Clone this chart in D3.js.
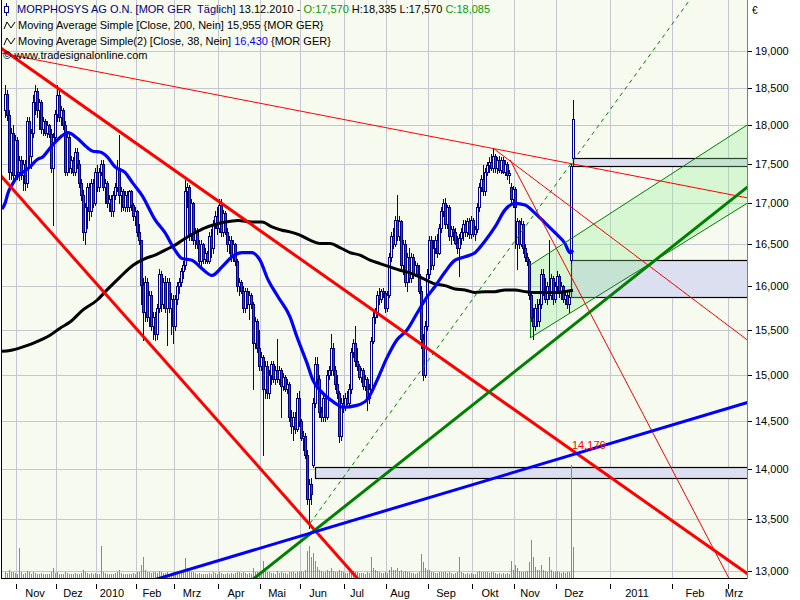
<!DOCTYPE html>
<html><head><meta charset="utf-8">
<script src="https://cdn.jsdelivr.net/npm/d3@7"></script>
<style>
body{margin:0;background:#fff}
svg{display:block}
text{font-family:"Liberation Sans",Arial,sans-serif;font-size:11px;white-space:pre}
</style>
</head><body>
<svg id="c" width="800" height="600"></svg>
<script>
// ---------- DATA (bar slots: one slot per trading day, future = calendar days) ----------
const open = [
18.20,18.41,18.13,17.40,17.90,17.36,17.80,17.40,17.55,17.35,
17.50,17.25,18.05,17.60,17.90,18.30,18.45,18.20,18.30,17.95,
18.05,17.90,18.00,17.88,17.45,17.85,18.15,18.40,18.10,18.20,
18.00,17.40,17.85,17.45,17.55,17.40,17.65,17.50,17.25,17.10,
16.65,16.95,17.20,16.90,17.25,17.00,17.40,17.20,17.40,17.50,
17.20,17.25,17.00,17.05,16.90,17.10,17.20,17.45,17.10,17.15,
16.95,17.10,16.95,17.15,16.98,16.85,16.90,16.65,16.55,16.02,
15.70,16.05,15.65,15.90,15.55,15.65,15.45,15.75,16.15,15.80,
16.05,15.75,16.05,15.75,15.85,15.55,15.85,16.00,16.05,16.18,
16.25,17.15,17.20,16.60,17.00,16.55,16.65,16.50,16.30,16.50,
16.32,16.40,16.30,16.60,16.45,16.75,16.85,16.70,16.98,16.65,
16.88,16.65,16.50,16.55,16.35,16.50,16.30,16.00,16.05,15.95,
15.75,15.95,15.80,15.90,15.80,15.35,15.60,15.30,15.10,15.20,
14.85,15.10,14.80,15.00,15.12,14.95,15.05,14.95,15.05,14.88,
14.98,14.85,14.90,14.55,14.45,14.55,14.42,14.75,14.50,14.33,
14.35,14.15,13.70,13.85,14.05,14.70,15.12,14.95,14.60,14.55,
14.75,14.55,15.00,15.05,15.30,15.05,14.90,14.80,14.35,14.70,
14.65,14.75,14.70,14.85,15.25,15.35,15.15,15.10,14.98,15.05,
14.88,14.95,14.75,14.85,15.38,15.65,15.70,15.90,15.85,15.95,
15.92,15.75,15.90,16.35,16.60,16.50,16.80,16.60,16.78,16.25,
16.50,16.05,16.35,16.10,16.35,16.15,16.25,16.15,15.95,15.40,
15.00,15.55,16.15,16.55,16.25,16.45,16.55,16.40,16.70,16.90,
17.00,16.75,16.95,16.60,16.68,16.65,16.52,16.45,16.58,16.65,
16.75,16.65,16.78,16.62,16.80,16.62,16.68,16.95,17.20,17.30,
17.15,17.40,17.48,17.52,17.45,17.60,17.45,17.55,17.42,17.55,
17.40,17.50,17.35,17.20,17.05,17.18,16.50,16.78,16.50,16.75,
16.45,16.35,16.30,15.90,15.65,15.55,15.75,15.60,15.80,16.15,
15.95,15.85,16.00,15.90,16.10,15.85,16.00,16.12,15.92,16.00,
15.85,15.90,15.80,16.31,17.57];
const high = [
18.54,18.47,18.20,17.96,18.00,17.87,17.85,17.60,17.60,17.55,
17.55,18.10,18.10,17.95,18.40,18.54,18.50,18.35,18.33,18.10,
18.08,18.05,18.02,17.95,17.90,18.20,18.54,18.45,18.25,18.22,
18.05,17.90,17.88,17.60,17.58,17.70,17.70,17.55,17.30,17.17,
17.00,17.25,17.25,17.30,17.30,17.45,17.48,17.45,17.55,17.55,
17.30,17.28,17.10,17.10,17.15,17.25,17.55,17.87,17.20,17.18,
17.15,17.15,17.17,17.17,17.00,16.95,16.92,16.75,16.55,16.10,
16.12,16.10,15.95,15.95,15.70,15.70,15.80,16.20,16.18,16.10,
16.12,16.10,16.10,15.92,15.90,15.90,16.05,16.10,16.22,16.30,
17.29,17.25,17.23,17.05,17.02,16.70,16.70,16.55,16.55,16.52,
16.45,16.42,16.65,16.68,16.80,16.90,16.95,17.05,17.05,16.92,
16.90,16.70,16.60,16.60,16.55,16.52,16.32,16.10,16.08,16.00,
15.98,15.98,15.95,15.92,15.82,15.65,15.62,15.50,15.25,15.22,
15.15,15.15,15.05,15.15,15.15,15.10,15.40,15.10,15.08,15.02,
15.00,14.95,14.92,14.62,14.60,14.60,14.80,14.82,14.52,14.40,
14.38,14.20,13.90,13.91,14.75,15.20,15.20,15.00,14.65,14.80,
14.78,15.05,15.10,15.45,15.35,15.10,15.00,14.82,14.75,14.78,
14.80,14.82,14.90,15.30,15.40,15.55,15.30,15.12,15.08,15.08,
15.00,14.98,14.90,15.42,15.70,15.75,15.95,15.98,15.97,15.98,
15.95,15.95,16.40,16.65,16.70,16.85,17.10,16.85,16.80,16.55,
16.55,16.40,16.45,16.40,16.38,16.30,16.28,16.25,16.00,15.45,
15.60,16.20,16.60,16.60,16.55,16.60,16.62,16.75,16.95,17.05,
17.07,16.98,16.98,16.72,16.72,16.70,16.60,16.62,16.70,16.80,
16.80,16.82,16.82,16.85,16.82,16.72,17.00,17.25,17.35,17.48,
17.45,17.52,17.58,17.62,17.70,17.63,17.58,17.60,17.58,17.58,
17.55,17.52,17.42,17.25,17.22,17.20,16.82,16.80,16.82,16.78,
16.50,16.40,16.32,15.95,15.75,15.80,15.85,15.85,16.20,16.20,
16.10,16.05,16.55,16.15,16.12,16.05,16.18,16.15,16.05,16.02,
15.95,15.95,15.95,17.50,18.335];
const low = [
18.10,18.07,17.30,17.30,17.29,17.30,17.30,17.29,17.30,17.17,
17.17,17.20,17.50,17.45,17.85,18.15,18.10,17.95,17.90,17.87,
17.87,17.85,17.85,17.40,16.74,17.80,18.05,18.05,18.00,17.95,
17.35,17.35,17.40,17.38,17.36,17.36,17.45,17.20,17.04,16.55,
16.50,16.70,16.80,16.85,16.95,16.98,17.15,17.15,17.35,17.17,
17.00,16.95,16.90,16.85,16.85,17.05,17.15,17.00,16.90,16.92,
16.90,16.90,16.90,16.92,16.80,16.74,16.60,16.50,15.80,15.39,
15.60,15.60,15.55,15.50,15.40,15.39,15.40,15.70,15.72,15.75,
15.70,15.33,15.70,15.45,15.35,15.50,15.80,15.92,16.00,16.10,
16.20,16.95,16.55,16.55,16.50,16.45,16.45,16.25,16.25,16.28,
16.28,16.28,16.28,16.35,16.40,16.70,16.62,16.65,16.60,16.60,
16.62,16.42,16.40,16.30,16.30,16.25,15.95,15.90,15.92,15.70,
15.70,15.75,15.62,15.75,14.85,15.30,15.25,15.05,15.05,14.15,
14.75,14.75,14.75,14.90,14.92,14.90,14.92,14.90,14.55,14.84,
14.82,14.80,14.50,14.38,14.30,14.38,14.40,14.45,14.30,14.20,
14.12,13.65,13.41,13.65,14.03,14.65,14.90,14.55,14.50,14.50,
14.50,14.52,14.95,15.00,15.00,14.85,14.75,14.28,14.30,14.60,
14.62,14.68,14.68,14.80,15.20,15.10,15.05,14.95,14.92,14.85,
14.84,14.62,14.70,14.82,15.35,15.58,15.65,15.80,15.82,15.88,
15.70,15.72,15.88,16.30,16.45,16.48,16.55,16.55,16.20,16.15,
16.00,15.95,16.05,16.05,16.10,16.12,16.12,15.92,15.30,14.94,
14.98,15.50,16.10,16.20,16.20,16.40,16.35,16.38,16.65,16.85,
16.70,16.70,16.55,16.50,16.55,16.50,16.40,16.12,16.50,16.55,
16.60,16.60,16.58,16.58,16.60,16.55,16.65,16.90,17.15,17.10,
17.10,17.35,17.40,17.42,17.40,17.40,17.38,17.40,17.38,17.38,
17.35,17.30,17.25,17.02,16.95,16.45,16.20,16.45,16.48,16.40,
16.30,16.25,15.85,15.60,15.40,15.50,15.55,15.55,15.75,15.90,
15.82,15.80,15.85,15.85,15.80,15.82,15.95,15.88,15.85,15.82,
15.80,15.75,15.70,16.28,17.57];
const close = [
18.41,18.13,17.40,17.90,17.36,17.80,17.40,17.55,17.35,17.50,
17.25,18.05,17.60,17.90,18.30,18.45,18.20,18.30,17.95,18.05,
17.90,18.00,17.88,17.45,17.85,18.15,18.40,18.10,18.20,18.00,
17.40,17.85,17.45,17.55,17.40,17.65,17.50,17.25,17.10,16.65,
16.95,17.20,16.90,17.25,17.00,17.40,17.20,17.40,17.50,17.20,
17.25,17.00,17.05,16.90,17.10,17.20,17.45,17.10,17.15,16.95,
17.10,16.95,17.15,16.98,16.85,16.90,16.65,16.55,16.02,15.70,
16.05,15.65,15.90,15.55,15.65,15.45,15.75,16.15,15.80,16.05,
15.75,16.05,15.75,15.85,15.55,15.85,16.00,16.05,16.18,16.25,
17.15,17.20,16.60,17.00,16.55,16.65,16.50,16.30,16.50,16.32,
16.40,16.30,16.60,16.45,16.75,16.85,16.70,16.98,16.65,16.88,
16.65,16.50,16.55,16.35,16.50,16.30,16.00,16.05,15.95,15.75,
15.95,15.80,15.90,15.80,15.35,15.60,15.30,15.10,15.20,14.85,
15.10,14.80,15.00,15.12,14.95,15.05,14.95,15.05,14.88,14.98,
14.85,14.90,14.55,14.45,14.55,14.42,14.75,14.50,14.33,14.35,
14.15,13.70,13.85,13.75,14.70,15.12,14.95,14.60,14.55,14.75,
14.55,15.00,15.05,15.30,15.05,14.90,14.80,14.35,14.70,14.65,
14.75,14.70,14.85,15.25,15.35,15.15,15.10,14.98,15.05,14.88,
14.95,14.75,14.85,15.38,15.65,15.70,15.90,15.85,15.95,15.92,
15.75,15.90,16.35,16.60,16.50,16.80,16.60,16.78,16.25,16.50,
16.05,16.35,16.10,16.35,16.15,16.25,16.15,15.95,15.40,15.00,
15.55,16.15,16.55,16.25,16.45,16.55,16.40,16.70,16.90,17.00,
16.75,16.95,16.60,16.68,16.65,16.52,16.45,16.58,16.65,16.75,
16.65,16.78,16.62,16.80,16.62,16.68,16.95,17.20,17.30,17.15,
17.40,17.48,17.52,17.45,17.60,17.45,17.55,17.42,17.55,17.40,
17.50,17.35,17.38,17.05,17.18,16.95,16.78,16.50,16.75,16.45,
16.35,16.30,15.90,15.65,15.55,15.75,15.60,15.80,16.15,15.95,
15.85,16.00,15.90,16.10,15.85,16.00,16.12,15.92,16.00,15.85,
15.90,15.80,15.88,17.47,18.085];
const volume = [
40,35,60,45,40,35,30,210,45,30,35,50,40,30,45,35,30,25,35,30,
30,25,30,40,70,35,45,30,25,30,45,35,30,25,30,35,25,30,35,60,
45,35,30,35,30,35,30,25,230,40,35,30,25,30,25,35,40,60,35,30,
25,30,25,30,35,30,40,45,90,150,60,45,40,35,45,40,35,50,40,35,
35,40,30,35,40,30,25,30,35,40,140,70,60,45,40,35,30,35,30,30,
30,25,35,30,40,35,30,40,35,30,30,35,30,35,30,35,45,40,35,40,
35,30,35,30,70,45,40,45,40,120,60,45,40,35,35,30,50,35,45,35,
35,30,40,45,40,35,45,40,50,45,55,190,230,150,180,120,80,60,50,45,
45,60,50,70,50,45,40,60,50,40,35,35,40,60,50,45,40,35,35,35,
30,40,35,150,70,55,50,40,35,35,40,35,60,80,55,60,70,50,55,45,
50,45,40,35,35,30,35,40,170,110,70,60,55,45,40,35,35,40,45,40,
45,35,40,35,30,35,40,150,40,35,30,35,30,35,30,30,40,50,45,40,
45,40,35,40,45,35,30,35,30,35,30,35,30,120,60,90,70,50,45,40,
45,50,110,270,150,80,60,55,90,60,50,45,150,55,45,40,50,40,35,40,
35,40,45,800,220];

// Moving averages (slot, value)
const ma38Slots = [-1.5,0,1.5,3.5,6,9,12.5,16,19,22.5,26,29,31.5,36,41,44,47.5,51,55,60,64,68.5,75,80,85,88.5,93.5,98.5,103.5,108.5,113.5,118.5,123.5,127.5,131.5,136.5,142.5,146,151,154,159,164,169,176,181,186,191,196,201,206,211,215,220,225,230,235,240,245,250,255,260,265,270,275,280,282.5,284];
const ma38Values = [16.93,17.00,17.13,17.23,17.33,17.39,17.46,17.55,17.59,17.70,17.80,17.87,17.90,17.83,17.71,17.66,17.65,17.59,17.46,17.39,17.25,17.10,16.80,16.64,16.43,16.33,16.31,16.21,16.13,16.23,16.35,16.40,16.40,16.31,16.08,15.88,15.65,15.42,15.13,14.94,14.80,14.71,14.65,14.67,14.73,14.94,15.19,15.39,15.50,15.69,15.88,16.00,16.17,16.31,16.35,16.40,16.54,16.71,16.92,17.00,16.98,16.88,16.76,16.64,16.51,16.40,16.43];
const ma200Slots = [-1.5,2.5,9,14,22.5,27.5,32.5,39,46,51,57.5,64,70,75,80,85,90,95,100,105,110,116.5,123.5,128.5,133.5,138.5,142.5,147.5,152.5,157.5,162.5,167.5,172.5,177.5,182.5,187.5,192.5,197.5,202.5,207.5,215,220,225,230,235,240,245,250,255,260,265,270,275,280,284];
const ma200Values = [15.26,15.27,15.31,15.35,15.44,15.52,15.59,15.73,15.84,15.96,16.11,16.25,16.33,16.37,16.43,16.49,16.57,16.64,16.70,16.74,16.77,16.79,16.77,16.77,16.71,16.67,16.65,16.61,16.55,16.51,16.51,16.46,16.40,16.37,16.31,16.27,16.23,16.19,16.16,16.11,16.03,16.01,15.97,15.96,15.93,15.94,15.94,15.96,15.96,15.94,15.93,15.93,15.93,15.94,15.955];

// Axis data
const priceTicks = [13,13.5,14,14.5,15,15.5,16,16.5,17,17.5,18,18.5,19];
const monthLabels = ["Nov","Dez","2010","Feb","Mrz","Apr","Mai","Jun","Jul","Aug","Sep","Okt","Nov","Dez","2011","Feb","Mrz"];
const monthStartSlots = [6,26,46,66,85,107,128,148,170,191,212,234,255,276,303,334,362];
const monthLabelSlots = [15,34,53.5,73.5,93.5,115.5,136,156.5,176,197.5,220.5,242.5,262.5,284.5,316,345,364.5];

// Drawing tools (anchors in slot / price)
const trendLines = [
 {id:"resist", s1:-1.5, v1:18.97, s2:371, v2:17.07, ext:"both"},
 {id:"fan1", s1:244, v1:17.70, s2:371, v2:15.39, ext:"right"},
 {id:"fan2", s1:252.5, v1:17.55, s2:362, v2:12.93, ext:"right"},
 {id:"chanUp", s1:262.5, v1:16.25, s2:371, v2:18.00, ext:"right"},
 {id:"chanLo", s1:262.5, v1:15.41, s2:371, v2:17.00, ext:"right"},
 {id:"dashG", s1:152.5, v1:13.46, s2:306, v2:18.33, ext:"right"},
 {id:"redUp", s1:-1.5, v1:19.03, s2:285, v2:14.176, ext:"both"},
 {id:"redLo", s1:-1.5, v1:17.33, s2:172.5, v2:13.01, ext:"both"},
 {id:"greenT", s1:124.5, v1:12.93, s2:371, v2:17.20, ext:"both"},
 {id:"blueT", s1:77, v1:12.93, s2:371, v2:14.70, ext:"both"}
];
const zones = [
 {s:284, lo:17.47, hi:17.57},
 {s:283, lo:15.88, hi:16.31},
 {s:155, lo:13.91, hi:14.03}
];
const markLabel = {s:284, v:14.176, text:"14,176"};

// ---------- DRAWING ----------
const svg = d3.select("#c");
const P = {l:2, r:747, t:0, b:578};
const x = d3.scaleLinear().domain([0,371]).range([5,747]);
const y = d3.scaleLog().domain([13,19]).range([571,51]);
const yVol = d3.scaleLinear().domain([0,850]).range([578,458]);
const bg = "#f7fbef";

svg.append("rect").attr("width",800).attr("height",600).attr("fill","#fff");
svg.append("defs").append("clipPath").attr("id","clip")
  .append("rect").attr("x",P.l).attr("y",P.t).attr("width",P.r-P.l).attr("height",P.b-P.t);
svg.append("rect").attr("x",P.l).attr("y",P.t).attr("width",P.r-P.l).attr("height",P.b-P.t).attr("fill",bg);

const g = svg.append("g").attr("clip-path","url(#clip)");
// grid
g.selectAll("line.hg").data(priceTicks).join("line")
  .attr("x1",P.l).attr("x2",P.r).attr("y1",d=>Math.round(y(d))+0.5).attr("y2",d=>Math.round(y(d))+0.5)
  .attr("stroke","#c6c6d0");
g.selectAll("line.vg").data(monthStartSlots).join("line")
  .attr("x1",d=>x(d)-0.5).attr("x2",d=>x(d)-0.5).attr("y1",P.t).attr("y2",P.b)
  .attr("stroke","#c6c6d0");

// zones
g.selectAll("rect.zone").data(zones).join("rect")
  .attr("x",d=>x(d.s)+0.5).attr("width",d=>P.r-x(d.s)+5)
  .attr("y",d=>Math.round(y(d.hi))+0.5).attr("height",d=>Math.round(y(d.lo))-Math.round(y(d.hi)))
  .attr("fill","#dcdff0").attr("stroke","#000").attr("stroke-width",1.2);

// green channel fill
const tl = Object.fromEntries(trendLines.map(d=>[d.id,d]));
const cu = tl.chanUp, cl = tl.chanLo;
g.append("path").attr("d",`M${x(cu.s1)},${y(cu.v1)}L${x(cu.s2)},${y(cu.v2)}L${x(cl.s2)},${y(cl.v2)}L${x(cl.s1)},${y(cl.v1)}Z`)
  .attr("fill","rgb(144,238,144)").attr("fill-opacity",0.3);
g.append("line").attr("x1",x(cu.s1)+0.5).attr("x2",x(cu.s1)+0.5).attr("y1",y(cu.v1)).attr("y2",y(cl.v1))
  .attr("stroke","#008000");

// volume
g.selectAll("line.vol").data(volume).join("line")
  .attr("x1",(d,i)=>x(i)+0.5).attr("x2",(d,i)=>x(i)+0.5)
  .attr("y1",yVol(0)).attr("y2",d=>Math.round(yVol(d)))
  .attr("stroke","#8a8a8a");

// candles
const bars = close.map((c,i)=>({i,o:open[i],h:high[i],l:low[i],c}));
g.selectAll("line.wick").data(bars).join("line")
  .attr("x1",d=>x(d.i)+0.5).attr("x2",d=>x(d.i)+0.5)
  .attr("y1",d=>Math.round(y(d.h))).attr("y2",d=>Math.round(y(d.l))+1)
  .attr("stroke","#000080");
g.selectAll("rect.body").data(bars).join("rect")
  .attr("x",d=>x(d.i)-0.5).attr("width",2)
  .attr("y",d=>Math.round(y(Math.max(d.o,d.c)))+0.5)
  .attr("height",d=>Math.max(1,Math.round(y(Math.min(d.o,d.c)))-Math.round(y(Math.max(d.o,d.c)))))
  .attr("fill",d=>d.c<d.o?"#ff0000":bg).attr("stroke","#000080");

// moving averages
const line = d3.line().x(d=>x(d[0])).y(d=>y(d[1])).curve(d3.curveMonotoneX);
g.append("path").attr("d",line(d3.zip(ma200Slots,ma200Values))).attr("fill","none").attr("stroke","#000").attr("stroke-width",3);
g.append("path").attr("d",line(d3.zip(ma38Slots,ma38Values))).attr("fill","none").attr("stroke","#0000ff").attr("stroke-width",3.2);

// trend lines
const style = {
 resist:{c:"#ff0000",w:1}, fan1:{c:"#ff0000",w:1}, fan2:{c:"#ff0000",w:1},
 chanUp:{c:"#008000",w:1}, chanLo:{c:"#008000",w:1}, dashG:{c:"#008000",w:1,dash:"4,4"},
 redUp:{c:"#ff0000",w:3}, redLo:{c:"#ff0000",w:3}, greenT:{c:"#008000",w:3}, blueT:{c:"#0000ff",w:3}
};
trendLines.forEach(t=>{
  const x1=x(t.s1), y1=y(t.v1), x2=x(t.s2), y2=y(t.v2);
  const dx=x2-x1, dy=y2-y1, k=6;
  const sx = t.ext==="both"? x1-k*dx : x1, sy = t.ext==="both"? y1-k*dy : y1;
  const s = style[t.id];
  g.append("line").attr("x1",sx).attr("y1",sy).attr("x2",x1+k*dx).attr("y2",y1+k*dy)
    .attr("stroke",s.c).attr("stroke-width",s.w).attr("stroke-dasharray",s.dash||null);
});
g.append("text").attr("x",x(markLabel.s)-1).attr("y",y(markLabel.v)-3)
  .attr("fill","#ff0000").text(markLabel.text);

// frame
svg.append("line").attr("x1",1.5).attr("x2",1.5).attr("y1",0).attr("y2",P.b+1).attr("stroke","#000");
svg.append("line").attr("x1",P.l).attr("x2",P.r+1).attr("y1",P.b+0.5).attr("y2",P.b+0.5).attr("stroke","#000");
svg.append("line").attr("x1",P.r+0.5).attr("x2",P.r+0.5).attr("y1",0).attr("y2",P.b+1).attr("stroke","#808080");

// right axis
const fmt = v=>d3.format(".3f")(v).replace(".",",");
const ra = svg.append("g");
ra.selectAll("line").data(priceTicks).join("line")
  .attr("x1",P.r+1).attr("x2",P.r+5).attr("y1",d=>Math.round(y(d))+0.5).attr("y2",d=>Math.round(y(d))+0.5)
  .attr("stroke","#000");
ra.selectAll("text").data(priceTicks).join("text")
  .attr("x",P.r+8).attr("y",d=>Math.round(y(d))+4).attr("fill","#000").text(fmt);
svg.append("text").attr("x",752).attr("y",14).style("font-size","10px").text("€");

// bottom axis
const ba = svg.append("g");
ba.selectAll("line").data(monthStartSlots).join("line")
  .attr("x1",d=>x(d)-0.5).attr("x2",d=>x(d)-0.5).attr("y1",584).attr("y2",589).attr("stroke","#000");
ba.selectAll("text").data(monthLabels).join("text")
  .attr("x",(d,i)=>x(monthLabelSlots[i])).attr("y",597).attr("text-anchor","middle").attr("fill","#000").text(d=>d);

// legend
const lg = svg.append("g");
lg.append("line").attr("x1",6.5).attr("x2",6.5).attr("y1",3).attr("y2",16).attr("stroke","#000080");
lg.append("rect").attr("x",4.5).attr("y",6.5).attr("width",4).attr("height",6).attr("fill","#fff").attr("stroke","#000080");
const t1 = lg.append("text").attr("x",17).attr("y",13).attr("xml:space","preserve");
t1.append("tspan").attr("fill","#000080").text("MORPHOSYS AG O.N. [MOR GER  Täglich]");
t1.append("tspan").attr("fill","#000").text(" 13.12.2010 - ");
t1.append("tspan").attr("fill","#00a000").text("O:17,570");
t1.append("tspan").attr("fill","#000").text(" H:18,335 L:17,570 ");
t1.append("tspan").attr("fill","#00a000").text("C:18,085");
[[29],[45]].forEach(([by])=>{
  lg.append("path").attr("d",`M4,${by} L7,${by-7} L11,${by-1} L15,${by-7}`).attr("fill","none").attr("stroke","#000");
});
const t2 = lg.append("text").attr("x",18).attr("y",29).attr("fill","#000");
t2.text("Moving Average Simple [Close, 200, Nein] 15,955 {MOR GER}");
const t3 = lg.append("text").attr("x",18).attr("y",45).attr("fill","#000").attr("xml:space","preserve");
t3.append("tspan").text("Moving Average Simple(2) [Close, 38, Nein] ");
t3.append("tspan").attr("fill","#0000ff").text("16,430");
t3.append("tspan").text(" {MOR GER}");
lg.append("text").attr("x",3).attr("y",59).attr("fill","#000").text("© www.tradesignalonline.com");
</script>
</body></html>
